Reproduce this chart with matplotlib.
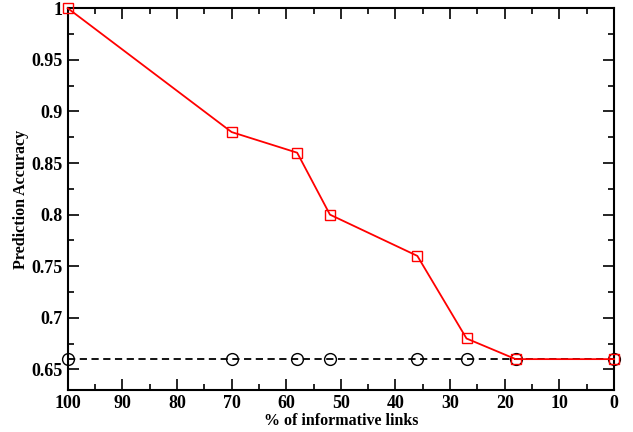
import matplotlib
matplotlib.use('Agg')
import matplotlib.pyplot as plt
from matplotlib.ticker import MultipleLocator

# data
links = [100, 70, 58, 52, 36, 27, 18, 0]
accuracy = [1.0, 0.88, 0.86, 0.80, 0.76, 0.68, 0.66, 0.66]
baseline = [0.66, 0.66, 0.66, 0.66, 0.66, 0.66, 0.66, 0.66]

plt.rcParams['font.family'] = ['Liberation Serif', 'DejaVu Serif']
plt.rcParams['font.weight'] = 'bold'

fig = plt.figure(figsize=(6.33, 4.32), dpi=100)
ax = fig.add_axes([0.107, 0.097, 0.863, 0.884])

ax.plot(links, baseline, color='black', linestyle=(0, (4, 2.5)), linewidth=1.3,
        marker='o', markersize=8.5, markerfacecolor='none', markeredgecolor='black',
        markeredgewidth=1.0, clip_on=False, zorder=3)
ax.plot(links, accuracy, color='red', linewidth=1.3,
        marker='s', markersize=7, markerfacecolor='none', markeredgecolor='red',
        markeredgewidth=1.0, clip_on=False, zorder=4)

ax.set_xlim(100, 0)
ax.set_ylim(0.63, 1.0)
ax.xaxis.set_major_locator(MultipleLocator(10))
ax.xaxis.set_minor_locator(MultipleLocator(5))
ax.yaxis.set_minor_locator(MultipleLocator(0.025))
ax.set_yticks([0.65, 0.7, 0.75, 0.8, 0.85, 0.9, 0.95, 1.0])
ax.set_yticklabels(['0.65', '0.7', '0.75', '0.8', '0.85', '0.9', '0.95', '1'])

ax.tick_params(which='both', direction='in', top=True, right=True, width=1.2)
ax.tick_params(which='major', length=8, labelsize=13)
ax.tick_params(which='minor', length=4)
for s in ax.spines.values():
    s.set_linewidth(1.5)
for lab in ax.get_xticklabels() + ax.get_yticklabels():
    lab.set_fontweight('bold')

ax.set_xlabel('% of informative links', fontsize=11.5, fontweight='bold', labelpad=1)
ax.set_ylabel('Prediction Accuracy', fontsize=11.5, fontweight='bold', labelpad=2)

plt.savefig('out.png', dpi=100)
